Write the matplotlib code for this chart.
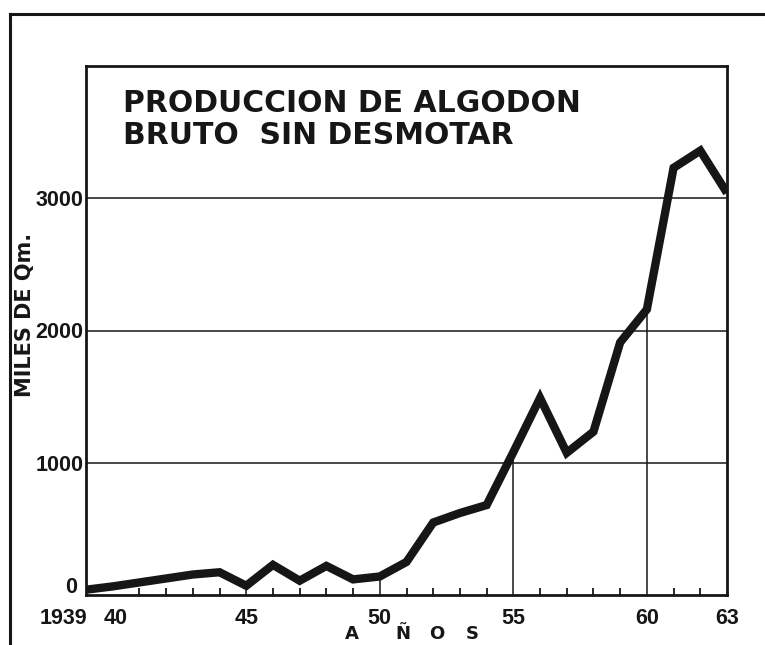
"""
Produccion de algodon bruto sin desmotar, 1939-1963
Recreated line chart in the style of a printed statistical plate
"""
import matplotlib
matplotlib.use('Agg')
import matplotlib.pyplot as plt
import matplotlib.transforms as mtransforms
from matplotlib.lines import Line2D

# Data (miles de Qm.)
years = list(range(1939, 1964))
production = [40, 65, 95, 125, 155, 172, 70, 228, 108, 220, 118, 140,
              250, 548, 620, 680, 1080, 1490, 1075, 1235, 1910, 2160,
              3230, 3360, 3040]
drop_years = [1945, 1950, 1955, 1960]
x_ticks = [1939, 1940, 1945, 1950, 1955, 1960, 1963]
x_labels = ['1939', '40', '45', '50', '55', '60', '63']
y_ticks = [0, 1000, 2000, 3000]
y_labels = ['0', '1000', '2000', '3000']
axis_word = ['A', 'Ñ', 'O', 'S']

INK = '#161616'
W, H = 765, 645
NUM_FONT = 'Liberation Sans'

fig = plt.figure(figsize=(W / 100, H / 100), dpi=100)
fig.patch.set_facecolor('white')

ax = fig.add_axes([86 / W, 1 - 595 / H, (727 - 86) / W, (595 - 66) / H])
ax.set_xlim(1939, 1963)
ax.set_ylim(0, 4000)

# Frame
for side in ['left', 'right', 'top', 'bottom']:
    ax.spines[side].set_linewidth(2.0)
    ax.spines[side].set_color(INK)

# Horizontal reference lines
for y in [1000, 2000, 3000]:
    ax.axhline(y, color=INK, linewidth=1.1, zorder=1)

# Drop lines from the axis up to the curve
prod_by_year = dict(zip(years, production))
ax.vlines(drop_years, 0, [prod_by_year[y] for y in drop_years],
          color=INK, linewidth=1.1, zorder=1)

# The curve
ax.plot(years, production, color=INK, linewidth=6,
        solid_joinstyle='miter', solid_capstyle='butt', zorder=3)

# Ticks
ax.set_xticks(x_ticks)
ax.set_xticklabels(x_labels)
ax.set_xticks(years, minor=True)
ax.tick_params(axis='x', which='major', length=0, pad=9.5)
ax.tick_params(axis='x', which='minor', direction='in', length=5,
               width=1.3, color=INK)
ax.set_yticks(y_ticks)
ax.set_yticklabels(y_labels)
ax.tick_params(axis='y', which='major', length=0, pad=2)

for lab in ax.get_xticklabels() + ax.get_yticklabels():
    lab.set_family(NUM_FONT)
    lab.set_fontweight('bold')
    lab.set_fontsize(15.5)
    lab.set_color(INK)

# nudge "1939" left, "40" right and "0" up like the print
def nudge(label, dx, dy):
    off = mtransforms.ScaledTranslation(dx / 100, dy / 100, fig.dpi_scale_trans)
    label.set_transform(label.get_transform() + off)

nudge(ax.get_xticklabels()[0], -23, 0)
nudge(ax.get_xticklabels()[1], 3, 0)
nudge(ax.get_yticklabels()[0], -6, 10)

# Title inside the frame
ax.text(123 / W, 1 - 89 / H, 'PRODUCCION DE ALGODON\nBRUTO  SIN DESMOTAR',
        transform=fig.transFigure, ha='left', va='top', fontsize=21.5,
        fontweight='bold', color=INK, linespacing=1.12)

# Axis titles
fig.text(25 / W, 1 - 315 / H, 'MILES DE Qm.', rotation=90, ha='center',
         va='center', fontsize=15, fontweight='bold', color=INK)
for letter, xpos in zip(axis_word, [352, 403, 437, 472]):
    fig.text(xpos / W, 1 - 643 / H, letter, ha='center', va='bottom',
             fontsize=13, fontweight='bold', color=INK)

# Page border lines of the scanned plate
fig.add_artist(Line2D([10 / W, 10 / W], [0, 1 - 14 / H],
                      transform=fig.transFigure, color=INK, linewidth=2.2))
fig.add_artist(Line2D([10 / W, 1], [1 - 14 / H, 1 - 14 / H],
                      transform=fig.transFigure, color=INK, linewidth=2.2))

fig.savefig('out.png', dpi=100, facecolor='white')
